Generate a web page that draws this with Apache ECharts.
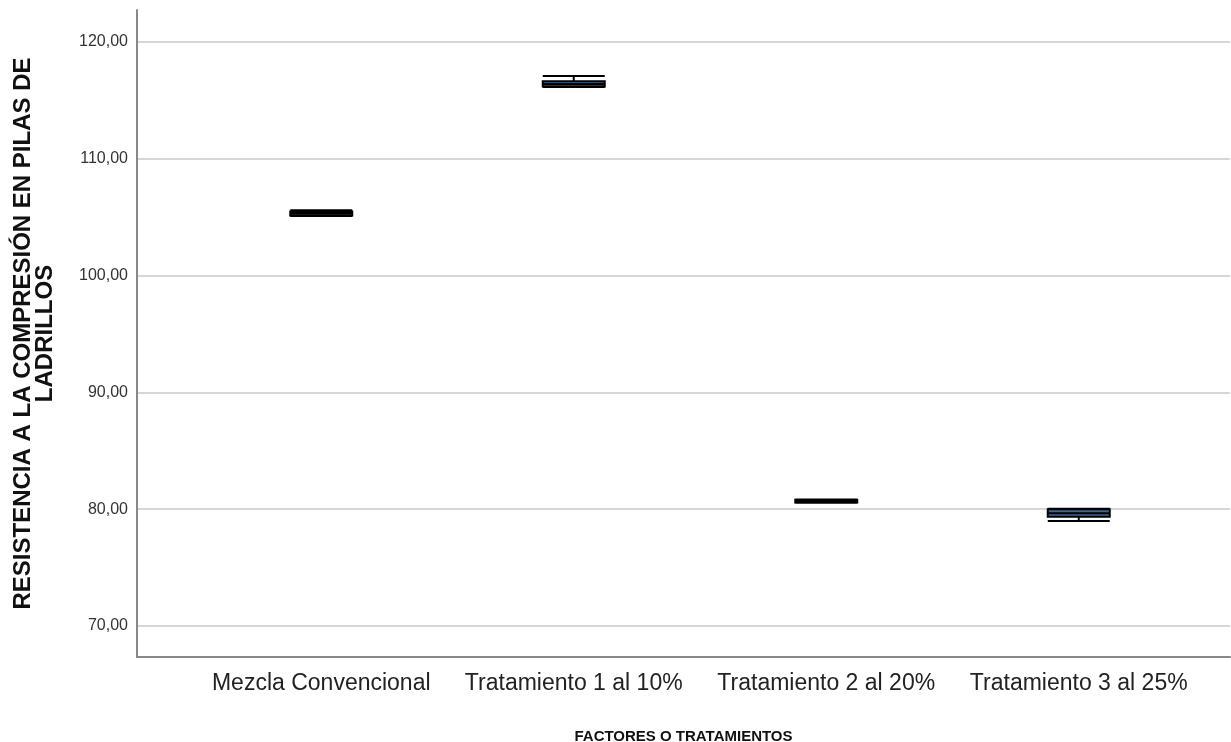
<!DOCTYPE html>
<html>
<head>
<meta charset="utf-8">
<script src="https://cdn.jsdelivr.net/npm/echarts@6/dist/echarts.min.js"></script>
<style>
  html, body { margin: 0; padding: 0; background: #fff; }
  #chart { width: 1231px; height: 742px; }
</style>
</head>
<body>
<div id="chart"></div>
<script>
// boxplot data
const categories = ['Mezcla Convencional', 'Tratamiento 1 al 10%', 'Tratamiento 2 al 20%', 'Tratamiento 3 al 25%']
const minVals = [105.1, 116.15, 80.56, 79.0]
const q1Vals = [105.15, 116.2, 80.58, 79.35]
const medianVals = [105.35, 116.4, 80.7, 79.65]
const q3Vals = [105.5, 116.65, 80.82, 80.0]
const maxVals = [105.6, 117.1, 80.84, 80.05]
const yTicks = [70, 80, 90, 100, 110, 120]

const boxData = categories.map((c, i) => [minVals[i], q1Vals[i], medianVals[i], q3Vals[i], maxVals[i]])

const yMin = 67.35
const yMax = 122.74

const chart = echarts.init(document.getElementById('chart'))

const option = {
  animation: false,
  textStyle: { fontFamily: 'Liberation Sans, Arial, sans-serif' },
  grid: [
    // frame with axes and gridlines
    { left: 137, right: 1, top: 10, bottom: 85, outerBoundsMode: 'none', containLabel: false },
    // boxes sit in a narrower band
    { left: 195, right: 26, top: 10, bottom: 85, outerBoundsMode: 'none', containLabel: false }
  ],
  xAxis: [
    {
      gridIndex: 0,
      type: 'value',
      min: 0,
      max: 1,
      axisLine: { show: true, lineStyle: { color: '#888', width: 2 } },
      axisTick: { show: false },
      axisLabel: { show: false },
      splitLine: { show: false },
      name: 'FACTORES O TRATAMIENTOS',
      nameLocation: 'middle',
      nameGap: 72,
      nameTextStyle: { fontSize: 15, fontWeight: 'bold', color: '#111' }
    },
    {
      gridIndex: 1,
      type: 'category',
      data: categories,
      axisLine: { show: false },
      axisTick: { show: false },
      axisLabel: { fontSize: 23, color: '#222', margin: 15, interval: 0 }
    }
  ],
  yAxis: [
    {
      gridIndex: 0,
      type: 'value',
      min: yMin,
      max: yMax,
      axisLine: { show: true, lineStyle: { color: '#888', width: 2 } },
      axisTick: { show: false, customValues: yTicks },
      axisLabel: {
        customValues: yTicks,
        fontSize: 16,
        color: '#333',
        margin: 9,
        formatter: v => v.toFixed(2).replace('.', ',')
      },
      splitLine: { show: true, lineStyle: { color: '#c8c8c8', width: 1.5 } },
      name: 'RESISTENCIA A LA COMPRESIÓN EN PILAS DE\nLADRILLOS',
      nameLocation: 'middle',
      nameGap: 81,
      nameTextStyle: { fontSize: 24, fontWeight: 'bold', color: '#111', lineHeight: 22 }
    },
    {
      gridIndex: 1,
      type: 'value',
      min: yMin,
      max: yMax,
      show: false
    }
  ],
  series: [
    {
      type: 'boxplot',
      xAxisIndex: 1,
      yAxisIndex: 1,
      data: boxData,
      boxWidth: [62, 62],
      itemStyle: { color: '#3f6699', borderColor: '#000', borderWidth: 2 }
    }
  ]
}

chart.setOption(option)
</script>
</body>
</html>
